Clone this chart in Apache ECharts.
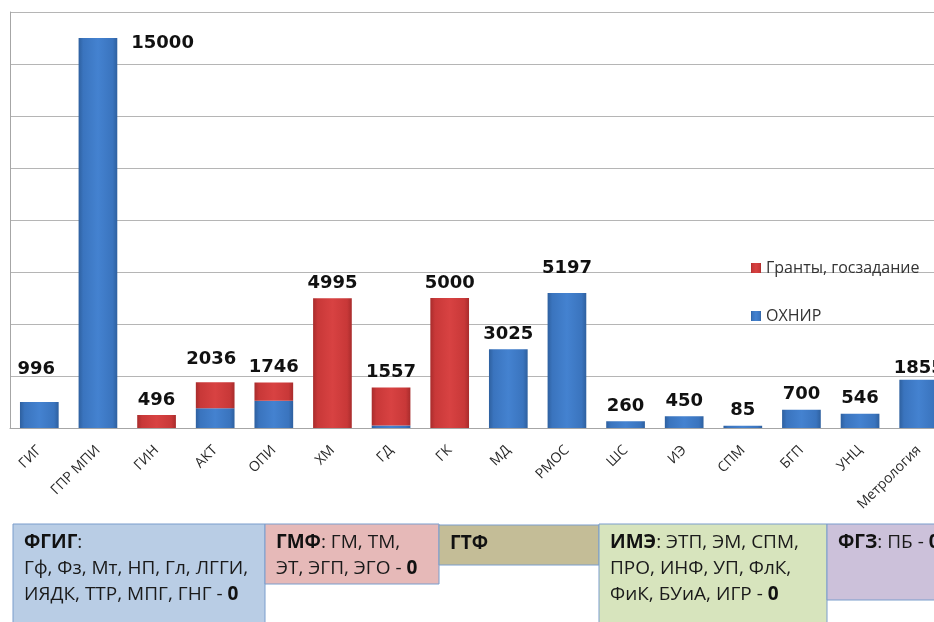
<!DOCTYPE html>
<html>
<head>
<meta charset="utf-8">
<script src="https://cdn.jsdelivr.net/npm/echarts@6/dist/echarts.min.js"></script>
<style>html,body{margin:0;padding:0;background:#fff;overflow:hidden;width:934px;height:622px;}#c{width:948px;height:622px;}</style>
</head>
<body>
<div id="c"></div>
<script>
const categories = ['ГИГ','ГПР МПИ','ГИН','АКТ','ОПИ','ХМ','ГД','ГК','МД','РМОС','ШС','ИЭ','СПМ','БГП','УНЦ','Метрология'];
const ohnir  = [996,15000,0,760,1050,0,100,0,3025,5197,260,450,85,700,546,1855];
const grants = [0,0,496,1000,696,4995,1457,5000,0,0,0,0,0,0,0,0];
const totals = [996,15000,496,2036,1746,4995,1557,5000,3025,5197,260,450,85,700,546,1855];
const yTicks = [0,2000,4000,6000,8000,10000,12000,14000,16000];

const FONT = 'Open Sans';
// per-label styling tweaks (label placement as in the original slide)
const labelStyleTweaks = {
  0: {offset:[-3,-18]},
  1: {position:['100%',0], align:'left', verticalAlign:'top', offset:[14,-4]},
  3: {offset:[-4,-8]},
  9: {offset:[0,-10]},
  15: {offset:[0,4]}
};

const blueGrad = new echarts.graphic.LinearGradient(0,0,1,0,[
  {offset:0,color:'#2E609F'},{offset:0.12,color:'#3A74BE'},{offset:0.5,color:'#4482D0'},{offset:0.88,color:'#3A74BE'},{offset:1,color:'#2E609F'}]);
const redGrad = new echarts.graphic.LinearGradient(0,0,1,0,[
  {offset:0,color:'#A82C2C'},{offset:0.12,color:'#C83838'},{offset:0.5,color:'#D84242'},{offset:0.88,color:'#C83838'},{offset:1,color:'#A82C2C'}]);

const labelData = totals.map((t,i) => {
  const item = {value:0};
  if (labelStyleTweaks[i]) item.label = labelStyleTweaks[i];
  return item;
});

function box(x,y,w,h,fill,text){
  return [
    {type:'rect', shape:{x:x,y:y,width:w,height:h}, style:{fill:fill, stroke:'#7B9DCC', lineWidth:1}, z:1},
    {type:'text', x:x+11, y:y+6, style:{text:text, fill:'#1a1a1a', font:'19px "'+FONT+'"', lineHeight:26,
      rich:{b:{fontWeight:'bold', fontSize:19, fontFamily:FONT, fill:'#111', lineHeight:26}}}, z:2}
  ];
}

const chart = echarts.init(document.getElementById('c'));
chart.setOption({
  backgroundColor:'#fff',
  animation:false,
  grid:{left:10, right:0, top:12, bottom:194, containLabel:false},
  legend:{
    data:['Гранты, госзадание','ОХНИР'],
    orient:'vertical', left:746, top:254, itemGap:30, itemWidth:10, itemHeight:10,
    icon:'rect',
    textStyle:{fontFamily:FONT, fontSize:16, color:'#333', lineHeight:18}
  },
  xAxis:{
    type:'category', data:categories,
    axisLine:{lineStyle:{color:'#A6A6A6', width:1}},
    axisTick:{show:false},
    axisLabel:{rotate:45, margin:20, fontFamily:FONT, fontSize:14, color:'#2a2a2a', interval:0}
  },
  yAxis:{
    type:'value', min:yTicks[0], max:yTicks[yTicks.length-1], interval:yTicks[1]-yTicks[0],
    axisLabel:{show:false},
    axisLine:{show:true, lineStyle:{color:'#A6A6A6'}},
    axisTick:{show:false},
    splitLine:{lineStyle:{color:'#B5B5B5', width:1}}
  },
  series:[
    {name:'ОХНИР', type:'bar', stack:'a', data:ohnir, barWidth:'66%', itemStyle:{color:blueGrad}},
    {name:'Гранты, госзадание', type:'bar', stack:'a', data:grants, barWidth:'66%', itemStyle:{color:redGrad}},
    {name:'totals', type:'bar', stack:'a', data:labelData, barWidth:'66%', itemStyle:{color:'rgba(0,0,0,0)'},
     label:{show:true, position:'top', distance:6, fontFamily:'DejaVu Sans', fontWeight:'bold', fontSize:18, color:'#111',
       formatter:p => String(totals[p.dataIndex])}, tooltip:{show:false}}
  ],
  graphic:[].concat(
    box(13,524,252,120,'#B9CDE5','{b|ФГИГ}:\nГф, Фз, Мт, НП, Гл, ЛГГИ,\nИЯДК, ТТР, МПГ, ГНГ - {b|0}'),
    box(265,524,174,60,'#E6B9B8','{b|ГМФ}: ГМ, ТМ,\nЭТ, ЭГП, ЭГО - {b|0}'),
    box(439,525,160,40,'#C4BD97','{b|ГТФ}'),
    box(599,524,228,120,'#D7E4BD','{b|ИМЭ}: ЭТП, ЭМ, СПМ,\nПРО, ИНФ, УП, ФлК,\nФиК, БУиА, ИГР - {b|0}'),
    box(827,524,130,76,'#CCC1DA','{b|ФГЗ}: ПБ - {b|0}')
  )
});
</script>
</body>
</html>
